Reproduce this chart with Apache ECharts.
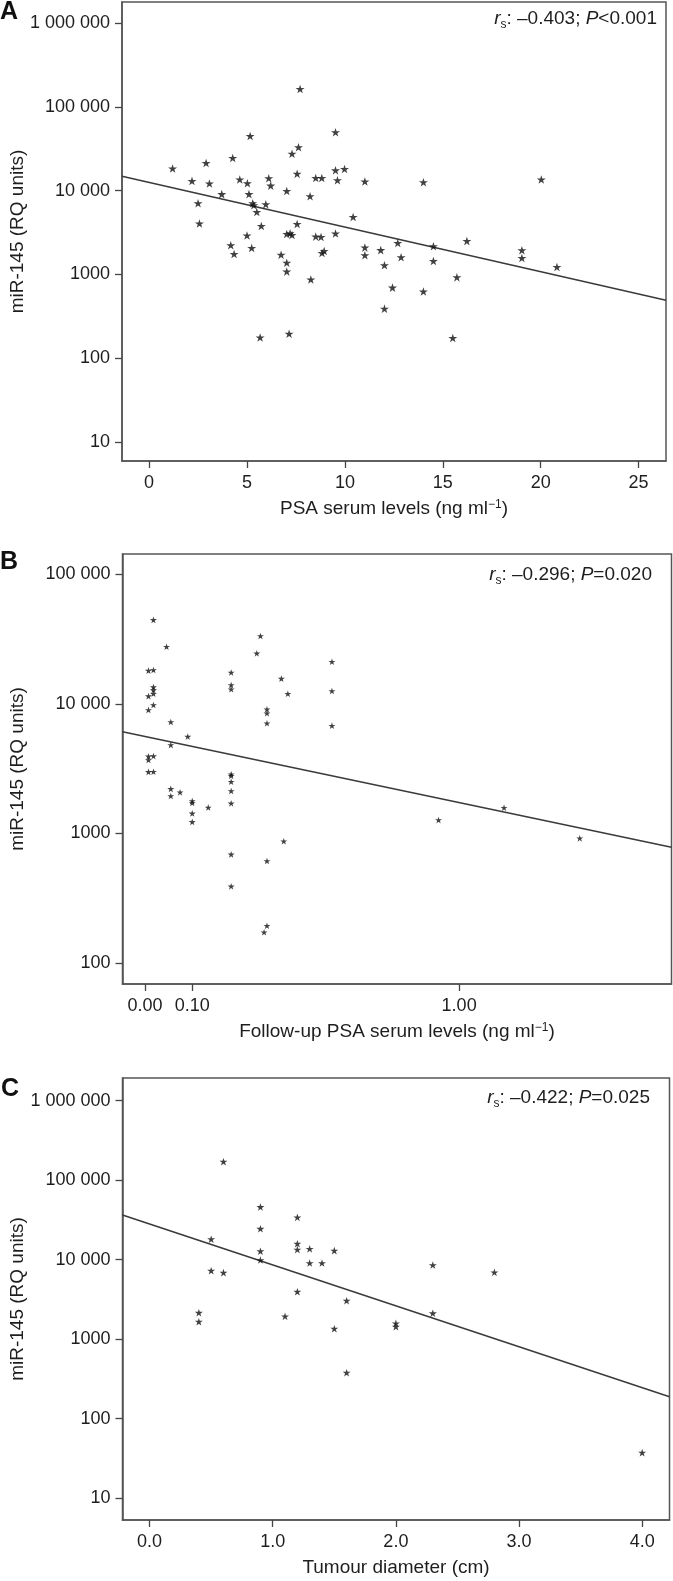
<!DOCTYPE html>
<html><head><meta charset="utf-8">
<script src="https://cdn.jsdelivr.net/npm/echarts@6/dist/echarts.min.js"></script>
<style>html,body{margin:0;padding:0;background:#fff}#c{width:673px;height:1581px}</style>
</head><body><div id="c"></div>
<script>
// ---------- Panel A: PSA serum levels vs miR-145 ----------
const psaA = [7.71,5.16,9.52,7.63,7.30,4.27,2.91,1.20,9.52,9.98,7.56,8.51,8.82,9.62,11.02,6.11,6.21,4.63,5.02,2.19,3.08,5.10,3.71,7.03,8.22,2.50,5.29,5.35,5.50,5.96,2.57,5.73,7.56,10.42,5.00,7.03,7.20,7.30,8.51,8.78,9.52,4.17,4.34,5.24,6.74,7.03,7.03,8.83,8.94,11.02,11.02,11.83,12.02,12.43,12.02,8.26,5.67,7.15,12.70,12.87,14.01,20.03,14.52,14.52,16.23,15.72,19.04,19.04,20.83,14.01,15.51];
const mirA = [164000,45000,50000,33000,27700,24600,21400,18400,17500,18200,15900,14200,14200,13300,12900,14100,11500,13600,12300,13100,12200,9100,9100,9900,8600,7100,7100,6700,5560,6870,4050,3790,4000,4860,2910,3040,3100,2950,2830,2800,3090,2230,1750,2070,1720,1380,1080,1800,1900,2090,1690,1950,1290,695,390,870,176,196,2370,1600,12600,13600,2170,1445,2500,922,1940,1570,1225,624,174];
const fitAx = [-1.385, 26.40];
const fitAy = [14900, 490];
const xTicksA = [0, 5, 10, 15, 20, 25];
const statA = '{i|r}{s|s}{n|: \u20130.403; }{i|P}{n|<0.001}';

// ---------- Panel B: follow-up PSA vs miR-145 ----------
const psaB = [0.017,0.007,0.017,0.017,0.017,0.017,0.007,0.017,0.007,0.007,0.017,0.007,0.007,0.017,0.044,0.053,0.053,0.053,0.053,0.073,0.090,0.100,0.100,0.100,0.100,0.137,0.193,0.193,0.193,0.193,0.193,0.193,0.193,0.193,0.193,0.193,0.26,0.27,0.288,0.288,0.288,0.288,0.288,0.28,0.329,0.348,0.336,0.487,0.487,0.487,0.904,1.23,1.69];
const mirB = [44600,18100,18300,13500,12800,12000,11500,9830,9000,3940,3960,3700,2990,3000,27700,7260,4820,2210,1950,2080,5600,1780,1720,1430,1230,1590,17500,14000,13000,2870,2790,2510,2130,1710,690,391,24600,33500,9100,8480,7100,614,194,173,15700,12000,871,21200,12600,6800,1270,1580,918];
const fitBx = [-0.043, 2.397];
const fitBy = [6110, 782];
const xTicksB = [0, 0.10, 1.00];
const statB = '{i|r}{s|s}{n|: \u20130.296; }{i|P}{n|=0.020}';

// ---------- Panel C: tumour diameter vs miR-145 ----------
const diamC = [0.6,0.9,0.9,0.9,0.9,1.2,1.2,1.2,1.2,1.3,1.3,1.4,1.5,1.5,1.6,0.5,0.5,0.6,0.4,0.4,1.1,2.0,2.0,2.3,2.8,2.3,1.6,4.0];
const mirC = [171000,46000,24500,12800,9900,34100,15900,13400,3960,13700,9080,9080,13000,1356,3050,18100,7270,6870,2150,1660,1940,1585,1437,8570,6930,2120,379,37.4];
const fitCx = [-0.22, 4.222];
const fitCy = [36500, 189];
const xTicksC = [0, 1, 2, 3, 4];
const statC = '{i|r}{s|s}{n|: \u20130.422; }{i|P}{n|=0.025}';

const yTicksA = [10, 100, 1000, 10000, 100000, 1000000];
const yTicksB = [100, 1000, 10000, 100000];
const yTicksC = [10, 100, 1000, 10000, 100000, 1000000];

// ---------- styling / layout ----------
const FONT = '"Liberation Sans", Arial, Helvetica, sans-serif';
const INK = '#1e1e1e';
const B_OFFSET = 0.7; // follow-up PSA axis is drawn on a log(x + 0.7) scale
const STAR = 'path://M50,0 L61.2,34.5 L97.6,34.5 L68.2,55.9 L79.4,90.5 L50,69.1 L20.6,90.5 L31.8,55.9 L2.4,34.5 L38.8,34.5 Z';

function fmtY(v) {
  v = Math.round(v);
  let s = String(v);
  if (v >= 10000) s = s.replace(/\B(?=(\d{3})+(?!\d))/g, ' ');
  return s;
}
const zip = (a, b, off) => a.map((v, i) => [v + (off || 0), b[i]]);

const richStat = {
  n: { fontSize: 19, fontFamily: FONT, color: INK, fontWeight: 'normal', lineHeight: 24 },
  i: { fontSize: 19, fontFamily: FONT, color: INK, fontWeight: 'normal', fontStyle: 'italic', lineHeight: 24 },
  s: { fontSize: 12, fontFamily: FONT, color: INK, fontWeight: 'normal', verticalAlign: 'bottom', lineHeight: 12 }
};
const richName = {
  sup: { fontSize: 12, fontFamily: FONT, color: INK, verticalAlign: 'top', lineHeight: 12 }
};
const AXLINE = { show: true, onZero: false, lineStyle: { color: '#555', width: 1.5 } };

function yAxis(gi, min, max, ticks) {
  return {
    type: 'log', logBase: 10, gridIndex: gi, min: min, max: max,
    name: 'miR-145 (RQ units)', nameLocation: 'middle', nameGap: 95, nameMoveOverlap: false,
    nameTextStyle: { fontSize: 19, color: INK, fontFamily: FONT },
    axisLine: AXLINE, splitLine: { show: false },
    axisTick: { show: true, length: 7, customValues: ticks, lineStyle: { color: '#444', width: 1.3 } },
    axisLabel: { customValues: ticks, formatter: fmtY, fontSize: 18, color: INK, margin: 12, fontFamily: FONT }
  };
}
function xAxis(gi, type, min, max, ticks, fmt, name) {
  return {
    type: type, gridIndex: gi, min: min, max: max,
    name: name, nameLocation: 'middle', nameGap: 38, nameMoveOverlap: false,
    nameTextStyle: { fontSize: 19, color: INK, fontFamily: FONT, rich: richName },
    axisLine: AXLINE, splitLine: { show: false },
    axisTick: { show: true, length: 7, customValues: ticks, lineStyle: { color: '#444', width: 1.3 } },
    axisLabel: { customValues: ticks, formatter: fmt, fontSize: 18, color: INK, margin: 13, fontFamily: FONT }
  };
}
function scatter(xi, data, size) {
  return { type: 'scatter', xAxisIndex: xi, yAxisIndex: xi, data: data, symbol: STAR,
    symbolKeepAspect: true, symbolSize: size, itemStyle: { color: '#111' }, silent: true, z: 3 };
}
function fit(xi, data) {
  return { type: 'line', xAxisIndex: xi, yAxisIndex: xi, data: data, showSymbol: false, silent: true,
    lineStyle: { color: '#3a3a3a', width: 1.5 }, z: 2, clip: true };
}
const gridStyle = { show: true, borderColor: '#555', borderWidth: 1.5, backgroundColor: 'transparent',
  containLabel: false, outerBoundsMode: 'none' };

const option = {
  backgroundColor: '#fff',
  animation: false,
  grid: [
    Object.assign({ left: 122, top: 2, width: 544, height: 459 }, gridStyle),
    Object.assign({ left: 122.5, top: 554, width: 549, height: 430 }, gridStyle),
    Object.assign({ left: 122.5, top: 1078, width: 547, height: 442 }, gridStyle)
  ],
  xAxis: [
    xAxis(0, 'value', fitAx[0], fitAx[1], xTicksA, v => String(Math.round(v)), 'PSA serum levels (ng ml{sup|\u22121})'),
    Object.assign(xAxis(1, 'log', fitBx[0] + B_OFFSET, fitBx[1] + B_OFFSET, xTicksB.map(v => v + B_OFFSET),
      v => (v - B_OFFSET).toFixed(2), 'Follow-up PSA serum levels (ng ml{sup|\u22121})'), { logBase: 10 }),
    xAxis(2, 'value', fitCx[0], fitCx[1], xTicksC, v => v.toFixed(1), 'Tumour diameter (cm)')
  ],
  yAxis: [
    yAxis(0, 5.9, 1.797e6, yTicksA),
    yAxis(1, 68.9, 143900, yTicksB),
    yAxis(2, 5.32, 1.93e6, yTicksC)
  ],
  title: [
    { text: 'A', left: 0, top: 0, padding: 0, textStyle: { fontSize: 25, fontWeight: 'bold', color: '#111', fontFamily: FONT, lineHeight: 25 } },
    { text: 'B', left: 0, top: 550, padding: 0, textStyle: { fontSize: 25, fontWeight: 'bold', color: '#111', fontFamily: FONT, lineHeight: 25 } },
    { text: 'C', left: 1, top: 1077, padding: 0, textStyle: { fontSize: 25, fontWeight: 'bold', color: '#111', fontFamily: FONT, lineHeight: 25 } },
    { text: statA, right: 16, top: 7, padding: 0, textStyle: { fontWeight: 'normal', rich: richStat } },
    { text: statB, right: 21, top: 563, padding: 0, textStyle: { fontWeight: 'normal', rich: richStat } },
    { text: statC, right: 23, top: 1086, padding: 0, textStyle: { fontWeight: 'normal', rich: richStat } }
  ],
  series: [
    fit(0, zip(fitAx, fitAy)),
    scatter(0, zip(psaA, mirA), 9),
    fit(1, zip(fitBx, fitBy, B_OFFSET)),
    scatter(1, zip(psaB, mirB, B_OFFSET), 7),
    fit(2, zip(fitCx, fitCy)),
    scatter(2, zip(diamC, mirC), 8)
  ]
};
const chart = echarts.init(document.getElementById('c'), null, { renderer: 'canvas' });
chart.setOption(option);
</script></body></html>
